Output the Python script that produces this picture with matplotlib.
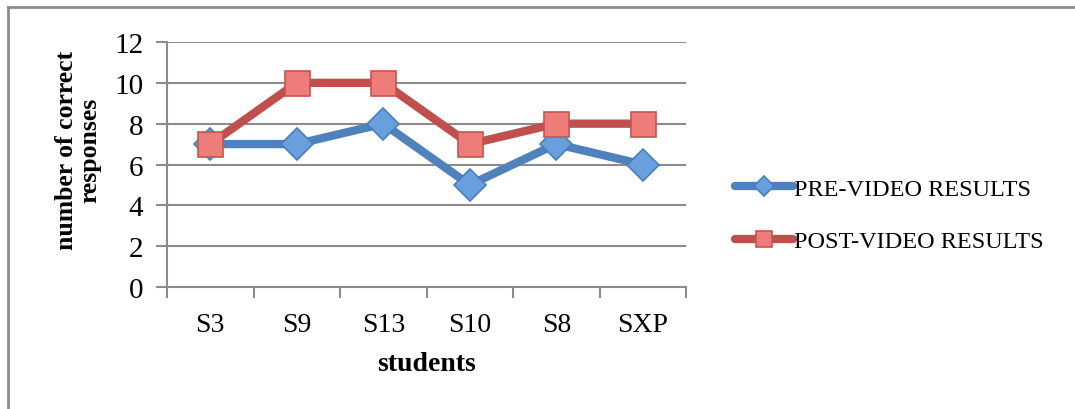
import matplotlib
matplotlib.use("Agg")
import matplotlib.pyplot as plt
from matplotlib.lines import Line2D

students = ["S3", "S9", "S13", "S10", "S8", "SXP"]
pre_video = [7, 7, 8, 5, 7, 6]
post_video = [7, 10, 10, 7, 8, 8]
y_ticks = [0, 2, 4, 6, 8, 10, 12]

plt.rcParams["font.family"] = ["Liberation Serif", "DejaVu Serif"]

fig = plt.figure(figsize=(10.75, 4.10), dpi=100)
ax = fig.add_axes([167 / 1075, 122 / 410, 519 / 1075, 245 / 410])

# chart border (top and left visible)
fig.add_artist(Line2D([8 / 1075, 8 / 1075], [0, 1 - 8 / 410], color="#8c8c8c", lw=2))
fig.add_artist(Line2D([8 / 1075, 1], [1 - 8 / 410, 1 - 8 / 410], color="#8c8c8c", lw=2))

x = list(range(len(students)))
ax.plot(x, pre_video, color="#4F81BD", lw=6, marker="D", markersize=16,
        markerfacecolor="#6A9FDE", markeredgecolor="#4A7EBB", markeredgewidth=1.2,
        label="PRE-VIDEO RESULTS", solid_joinstyle="round", solid_capstyle="round", zorder=3)
ax.plot(x, post_video, color="#C0504D", lw=6, marker="s", markersize=18,
        markerfacecolor="#EE7D7A", markeredgecolor="#C65450", markeredgewidth=1.2,
        label="POST-VIDEO RESULTS", solid_joinstyle="round", solid_capstyle="round", zorder=4)

ax.set_xlim(-0.5, len(students) - 0.5)
ax.set_ylim(0, 12)
ax.set_yticks(y_ticks)
ax.set_xticks(x)
ax.set_xticklabels(students)
ax.set_xticks([i - 0.5 for i in range(len(students) + 1)], minor=True)
ax.tick_params(axis="x", which="major", length=0, pad=18, labelsize=20)
ax.tick_params(axis="x", which="minor", length=8, width=1.5, color="#8c8c8c")
ax.tick_params(axis="y", length=8, width=1.5, color="#8c8c8c", labelsize=21, pad=9)
ax.grid(axis="y", color="#8c8c8c", lw=1.5)
ax.set_axisbelow(True)
for s in ["top", "right"]:
    ax.spines[s].set_visible(False)
for s in ["left", "bottom"]:
    ax.spines[s].set_color("#8c8c8c")
    ax.spines[s].set_linewidth(1.5)

ax.set_xlabel("students", fontsize=20, fontweight="bold", labelpad=10)
ax.set_ylabel("number of correct\nresponses", fontsize=18.5, fontweight="bold",
              linespacing=1.0)
ax.yaxis.set_label_coords(-0.127, 0.563)

leg = fig.legend(loc="center left", bbox_to_anchor=(713 / 1075, 1 - 216 / 410),
                 frameon=False, fontsize=17.5, handlelength=2.4, handletextpad=0.05,
                 labelspacing=1.25, markerscale=0.65)

fig.savefig("out.png", dpi=100)
